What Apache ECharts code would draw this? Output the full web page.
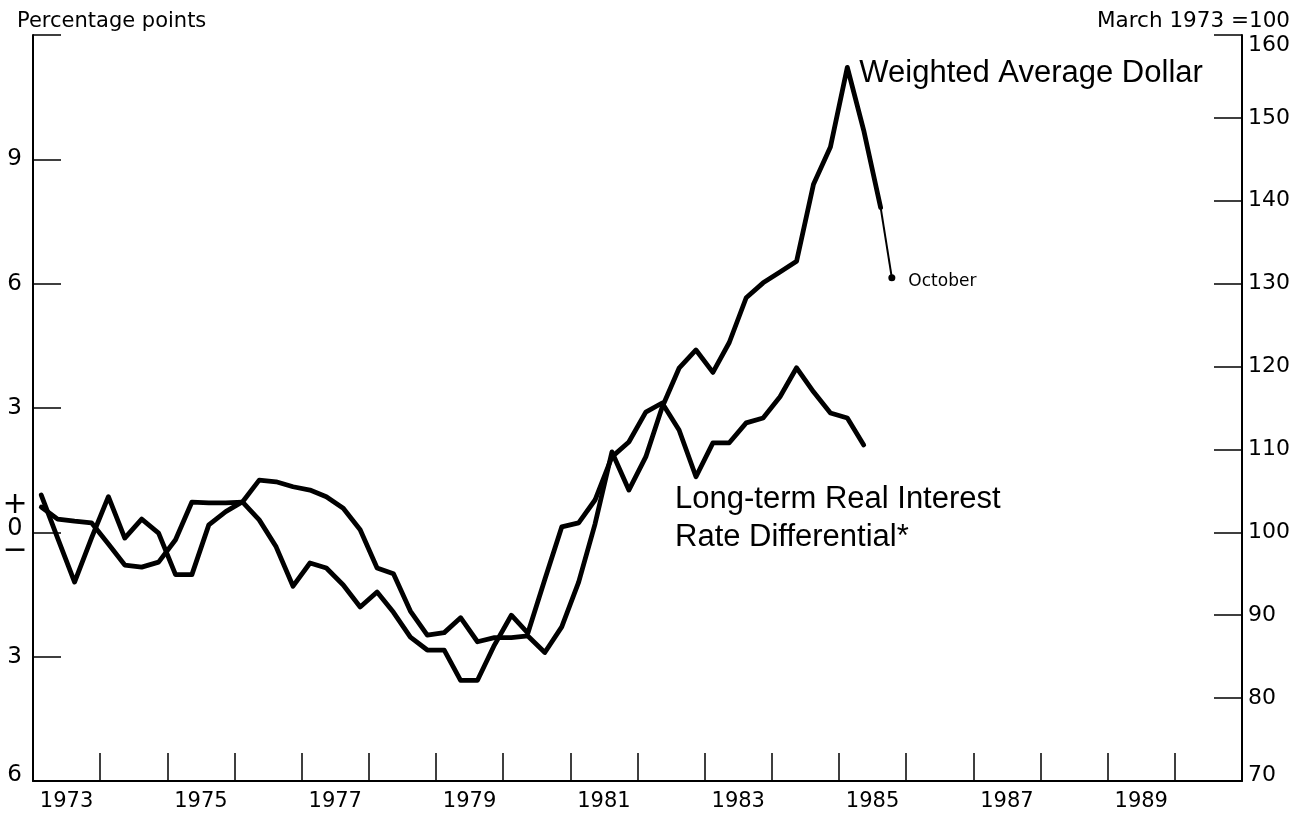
<!DOCTYPE html>
<html>
<head>
<meta charset="utf-8">
<script src="https://cdn.jsdelivr.net/npm/echarts@6/dist/echarts.min.js"></script>
<style>
  html, body { margin: 0; padding: 0; background: #fff; }
  #chart { width: 1314px; height: 816px; }
</style>
</head>
<body>
<div id="chart"></div>
<script>
// ---- Data ----
const yearLabels = ['1973','1974','1975','1976','1977','1978','1979','1980','1981','1982',
                    '1983','1984','1985','1986','1987','1988','1989','1990'];

const quarters = [
  '1973Q1','1973Q2','1973Q3','1973Q4','1974Q1','1974Q2','1974Q3','1974Q4',
  '1975Q1','1975Q2','1975Q3','1975Q4','1976Q1','1976Q2','1976Q3','1976Q4',
  '1977Q1','1977Q2','1977Q3','1977Q4','1978Q1','1978Q2','1978Q3','1978Q4',
  '1979Q1','1979Q2','1979Q3','1979Q4','1980Q1','1980Q2','1980Q3','1980Q4',
  '1981Q1','1981Q2','1981Q3','1981Q4','1982Q1','1982Q2','1982Q3','1982Q4',
  '1983Q1','1983Q2','1983Q3','1983Q4','1984Q1','1984Q2','1984Q3','1984Q4',
  '1985Q1','1985Q2','1985Q3'
];

// Weighted Average Dollar, index March 1973 = 100 (right axis), quarterly
const dollarIndex = [
  104.5, 99.3, 94.0, 99.3, 104.3, 99.3, 101.6, 99.9,
  94.9, 94.9, 100.9, 102.5, 103.7, 106.3, 106.1, 105.5,
  105.1, 104.3, 102.9, 100.3, 95.7, 95.0, 90.5, 87.6,
  87.9, 89.7, 86.8, 87.3, 87.3, 87.5, 85.5, 88.6,
  94.0, 101.0, 109.7, 105.1, 109.1, 115.1, 119.8, 122.0,
  119.3, 122.9, 128.3, 130.1, 131.4, 132.7, 142.0, 146.5,
  156.1, 148.5, 139.2
];
const octoberLabel = 'October';
const octoberValue = 130.7;

// Long-term real interest rate differential, percentage points (left axis), quarterly
const rateDiff = [
  0.61, 0.32, 0.27, 0.23, -0.28, -0.79, -0.84, -0.72,
  -0.18, 0.73, 0.71, 0.71, 0.73, 0.30, -0.35, -1.30,
  -0.74, -0.86, -1.27, -1.80, -1.44, -1.93, -2.53, -2.84,
  -2.84, -3.57, -3.57, -2.72, -2.00, -2.43, -1.14, 0.13,
  0.23, 0.78, 1.82, 2.18, 2.90, 3.12, 2.47, 1.34,
  2.16, 2.16, 2.64, 2.76, 3.27, 3.97, 3.39, 2.88,
  2.76, 2.11
];

// ---- helpers ----
function quarterTime(q) {
  const y = +q.slice(0, 4), n = +q.slice(5);
  return +new Date(y, (n - 1) * 3 + 1, 15); // middle of the quarter
}
const octTime = +new Date(1985, 9, 15);

const peakIdx = dollarIndex.indexOf(Math.max(...dollarIndex));
const dollarData = dollarIndex.map((v, i) => {
  const item = { value: [quarterTime(quarters[i]), v] };
  if (i === peakIdx) {
    item.label = {
      show: true, position: 'right', distance: 12,
      formatter: 'Weighted Average Dollar',
      fontFamily: 'Liberation Sans', fontSize: 31, color: '#000', offset: [0, 6]
    };
  }
  return item;
});
const lastQ = dollarIndex.length - 1;
const dollarTail = [
  { value: [quarterTime(quarters[lastQ]), dollarIndex[lastQ]] },
  { value: [octTime, octoberValue],
    label: { show: true, position: 'right', distance: 13, formatter: octoberLabel,
             fontFamily: 'DejaVu Sans', fontSize: 17, color: '#000', offset: [0, 4] } }
];
const diffData = rateDiff.map((v, i) => [quarterTime(quarters[i]), v]);

const FONT = 'DejaVu Sans';
const chart = echarts.init(document.getElementById('chart'), null, { renderer: 'canvas' });

chart.setOption({
  backgroundColor: '#fff',
  animation: false,
  title: [
    { text: 'Percentage points', left: 12, top: 6,
      textStyle: { fontFamily: FONT, fontSize: 21, fontWeight: 'normal', color: '#000' } },
    { text: 'March 1973 =100', right: 19, top: 5,
      textStyle: { fontFamily: FONT, fontSize: 21.5, fontWeight: 'normal', color: '#000' } }
  ],
  grid: { left: 33, right: 72, top: 35, bottom: 35, outerBoundsMode: 'none' },
  xAxis: [
    {
      type: 'category', data: yearLabels, boundaryGap: true, position: 'bottom',
      axisLine: { show: true, onZero: false, lineStyle: { color: '#000', width: 2 } },
      axisTick: { show: true, inside: true, length: 28, interval: 0, lineStyle: { color: '#000', width: 1.5 } },
      axisLabel: { interval: 1, margin: 10, fontFamily: FONT, fontSize: 21, color: '#000' },
      splitLine: { show: false }
    },
    {
      type: 'time', min: +new Date(1973, 0, 1), max: +new Date(1991, 0, 1),
      show: false, position: 'bottom', axisLine: { onZero: false }, splitLine: { show: false }
    }
  ],
  yAxis: [
    {
      type: 'value', position: 'left', min: -6, max: 12, interval: 3,
      axisLine: { show: true, onZero: false, lineStyle: { color: '#000', width: 2 } },
      axisTick: { show: true, inside: true, length: 28, lineStyle: { color: '#000', width: 1.5 } },
      splitLine: { show: false },
      axisLabel: {
        margin: 8, fontFamily: FONT, fontSize: 23, color: '#000',
        formatter: function (v) {
          if (v === 12) return '';
          if (v === 0) return '{pm|+}\n{z|0}\n{pm|−}\n{sp| }';
          if (v === -6) return '{lo|6}';
          return '{n|' + Math.abs(v) + '}';
        },
        rich: {
          pm: { fontFamily: FONT, fontSize: 30, lineHeight: 24, width: 20, align: 'center', color: '#000' },
          z: { fontFamily: FONT, fontSize: 24, lineHeight: 22, width: 20, align: 'center', color: '#000' },
          sp: { fontSize: 8, lineHeight: 8 },
          n: { fontFamily: FONT, fontSize: 23, color: '#000', padding: [0, 3, 0, 0] },
          lo: { fontFamily: FONT, fontSize: 23, color: '#000', padding: [0, 3, 12, 0] }
        }
      }
    },
    {
      type: 'value', position: 'right', min: 70, max: 160, interval: 10,
      axisLine: { show: true, onZero: false, lineStyle: { color: '#000', width: 2 } },
      axisTick: { show: true, inside: true, length: 28, lineStyle: { color: '#000', width: 1.5 } },
      splitLine: { show: false },
      axisLabel: {
        margin: 6, fontFamily: FONT, fontSize: 22, color: '#000',
        formatter: function (v) {
          if (v === 160) return '{top|160}';
          if (v === 70) return '{lo|70}';
          return '{n|' + v + '}';
        },
        rich: {
          n: { fontFamily: FONT, fontSize: 22, color: '#000' },
          top: { fontFamily: FONT, fontSize: 22, color: '#000', padding: [20, 0, 0, 0] },
          lo: { fontFamily: FONT, fontSize: 22, color: '#000', padding: [0, 0, 12, 0] }
        }
      }
    }
  ],
  graphic: [
    {
      type: 'text', left: 675, top: 480, z: 10,
      style: {
        text: 'Long-term Real Interest\nRate Differential*',
        fontFamily: 'Liberation Sans', fontSize: 31, lineHeight: 38, fill: '#000'
      }
    }
  ],
  series: [
    {
      name: 'Long-term Real Interest Rate Differential', type: 'line',
      xAxisIndex: 1, yAxisIndex: 0, data: diffData,
      symbol: 'none', smooth: false,
      lineStyle: { color: '#000', width: 4.8, join: 'round', cap: 'round' }
    },
    {
      name: 'Weighted Average Dollar', type: 'line',
      xAxisIndex: 1, yAxisIndex: 1, data: dollarData,
      symbol: 'circle', symbolSize: 0, showSymbol: true, showAllSymbol: true,
      itemStyle: { color: '#000' },
      lineStyle: { color: '#000', width: 4.8, join: 'round', cap: 'round' }
    },
    {
      name: 'Weighted Average Dollar (monthly)', type: 'line',
      xAxisIndex: 1, yAxisIndex: 1, data: dollarTail,
      showSymbol: true, symbol: 'circle',
      symbolSize: function (v, p) { return p.dataIndex === 1 ? 7 : 0; },
      itemStyle: { color: '#000' },
      lineStyle: { color: '#000', width: 2 }
    }
  ]
});
</script>
</body>
</html>
